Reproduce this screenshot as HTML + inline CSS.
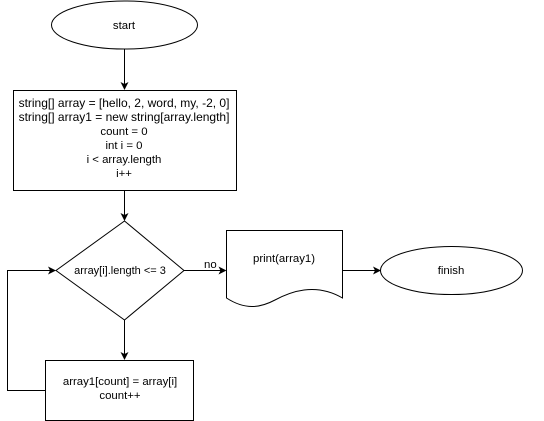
<!DOCTYPE html>
<html><head><style>body{margin:0;background:#fff}svg{display:block}text{font-family:"Liberation Sans",Arial,sans-serif;font-size:11.4px;fill:#000}</style></head><body>
<svg width="544" height="421" viewBox="0 0 544 421">
<defs><marker id="a" markerWidth="8" markerHeight="8" refX="7" refY="4" orient="auto" markerUnits="userSpaceOnUse"><path d="M0,0 L8,4 L0,8 L2,4 z" fill="#000"/></marker></defs>
<g fill="#fff" stroke="#000" stroke-width="1">
<ellipse cx="124.5" cy="25" rx="73" ry="24"/>
<rect x="13.5" y="90.5" width="223" height="100"/>
<polygon points="124.5,221 184,270.5 124.5,320 56,270.5"/>
<path d="M226.5,230.5 H342.5 V298 C315,282 290,292 275,300 C260,308 245,310 226.5,298 Z"/>
<ellipse cx="451.5" cy="270.5" rx="71" ry="24"/>
<rect x="45.5" y="360.5" width="148" height="60"/>
</g>
<g stroke="#000" fill="none">
<path d="M124.5,49 V89" marker-end="url(#a)"/>
<path d="M124.5,190.5 V220" marker-end="url(#a)"/>
<path d="M184,270.5 H225.5" marker-end="url(#a)"/>
<path d="M342.5,270.5 H380" marker-end="url(#a)"/>
<path d="M124.5,320 V359" marker-end="url(#a)"/>
<path d="M45.5,390.5 H7.5 V270.5 H55" marker-end="url(#a)"/>
</g>
<text x="124" y="29" text-anchor="middle">start</text>
<g text-anchor="middle">
<text x="124" y="107" style="font-size:12px">string[] array = [hello, 2, word, my, -2, 0]</text>
<text x="124" y="121" style="font-size:12px">string[] array1 = new string[array.length]</text>
<text x="124" y="135">count = 0</text>
<text x="124" y="149">int i = 0</text>
<text x="124" y="163">i &lt; array.length</text>
<text x="124" y="177">i++</text>
<text x="120" y="274" style="font-size:11px">array[i].length &lt;= 3</text>
<text x="284" y="262">print(array1)</text>
<text x="451" y="274">finish</text>
<text x="120" y="385">array1[count] = array[i]</text>
<text x="120" y="399">count++</text>
</g>
<text x="204" y="268">no</text>
</svg>
</body></html>
